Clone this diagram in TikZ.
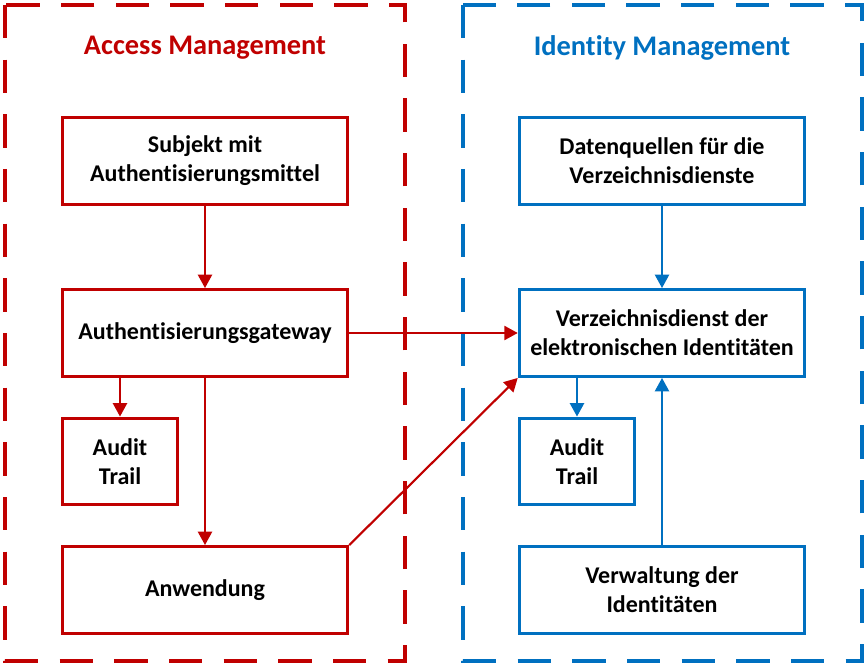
\documentclass[tikz,border=0pt]{standalone}
\usepackage{fontspec}
\setmainfont{Carlito}[RawFeature={-liga;-clig;-dlig;-calt}]
\usetikzlibrary{arrows.meta}
\definecolor{amred}{HTML}{C00000}
\definecolor{imblue}{HTML}{0070C0}
\begin{document}
\begin{tikzpicture}[x=0.75pt,y=-0.75pt,
		box/.style={draw=#1,line width=2.4pt,fill=white,text=black,align=center,inner sep=0pt,
			font=\fontsize{18}{21.8}\selectfont\bfseries,minimum width=214pt,minimum height=65pt},
		smallbox/.style={box=#1,minimum width=86pt},
		arr/.style={draw=#1,fill=#1,line width=1.6pt,-{Triangle[length=10pt,width=10.5pt]}},
		area/.style={draw=#1,line width=3pt,dash pattern=on 25pt off 16pt},
		title/.style={text=#1,font=\fontsize{21.3}{25}\selectfont\bfseries}]
			\useasboundingbox (0,0) rectangle (866,666);
			% Draw dashed areas
			\draw[area=amred] (5,5) rectangle (405,661);
			\draw[area=imblue] (463,5) rectangle (862,661);
			\node[title=amred] (amtitle) at (205,48) {Access Management};
			\node[title=imblue] (imtitle) at (662,48) {Identity Management};

			% Draw access management boxes
			\node[box=amred] (subj) at (205,161) {Subjekt mit\\Authentisierungsmittel};
			\node[box=amred] (gw) at (205,333) {Authentisierungsgateway};
			\node[smallbox=amred] (auditl) at (120,461.5) {Audit\\Trail};
			\node[box=amred] (anw) at (205,590) {Anwendung};

			% Draw identity management boxes
			\node[box=imblue] (daten) at (662,161) {Datenquellen für die\\Verzeichnisdienste};
			\node[box=imblue] (verz) at (662,333) {Verzeichnisdienst der\\elektronischen Identitäten};
			\node[smallbox=imblue] (auditr) at (577,461.5) {Audit\\Trail};
			\node[box=imblue] (verw) at (662,590) {Verwaltung der\\Identitäten};

			% Draw arrows
			\draw[arr=amred] (subj) -- (gw);
			\draw[arr=amred] (gw.south -| auditl.north) -- (auditl.north);
			\draw[arr=amred] (gw) -- (anw);
			\draw[arr=amred] (gw) -- (verz);
			\draw[arr=amred] (anw.north east) -- (verz.south west);
			\draw[arr=imblue] (daten) -- (verz);
			\draw[arr=imblue] (verz.south -| auditr.north) -- (auditr.north);
			\draw[arr=imblue] (verw) -- (verz);
		\end{tikzpicture}
\end{document}
